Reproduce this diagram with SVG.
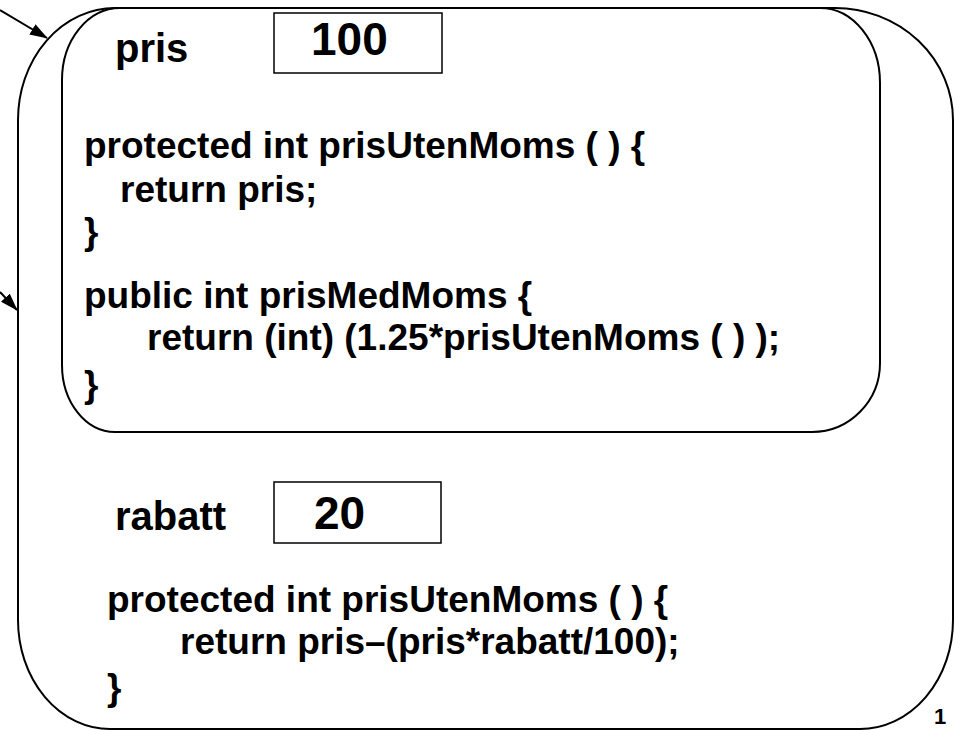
<svg xmlns="http://www.w3.org/2000/svg" width="955" height="730" viewBox="0 0 955 730">
<style>
.t{font-family:"Liberation Sans",Arial,sans-serif;font-weight:bold;fill:#000}
.c{font-size:37px}
.l{font-size:40px}
.n{font-size:46px}
.shape{fill:none;stroke:#000;stroke-width:2}
.box{fill:#fff;stroke:#000;stroke-width:1.5}
.conn{stroke:#000;stroke-width:2;fill:none}
</style>
<defs>
<marker id="ah" viewBox="0 0 18 12" refX="17" refY="6" markerWidth="18" markerHeight="12" markerUnits="userSpaceOnUse" orient="auto">
<path d="M0,0 L18,6 L0,12 Z" fill="#000"/>
</marker>
</defs>
<g id="outer">
<path class="shape" d="M115 8 H835 A118 112 0 0 1 953 120 V620 A93 109 0 0 1 860 729 H110 A92 109 0 0 1 18 620 V120 A97 112 0 0 1 115 8 Z"/>
</g>
<g id="inner">
<path class="shape" d="M120 8 H820 A60 75 0 0 1 880 83 V363 A68 69 0 0 1 812 432 H115 A53 67 0 0 1 62 365 V80 A58 72 0 0 1 120 8 Z"/>
<text class="t l" x="115" y="62">pris</text>
<text class="t c" x="84" y="158">protected int prisUtenMoms ( ) {</text>
<text class="t c" x="120" y="202">return pris;</text>
<text class="t c" x="84" y="244">}</text>
<text class="t c" x="84" y="308">public int prisMedMoms {</text>
<text class="t c" x="147" y="350">return (int) (1.25*prisUtenMoms ( ) );</text>
<text class="t c" x="84" y="397">}</text>
</g>
<g id="pris-box">
<rect class="box" x="274" y="13" width="168" height="60"/>
<text class="t n" x="311" y="55">100</text>
</g>
<g id="rabatt">
<text class="t l" x="115" y="530">rabatt</text>
<text class="t c" x="107" y="612">protected int prisUtenMoms ( ) {</text>
<text class="t c" x="180" y="654">return pris–(pris*rabatt/100);</text>
<text class="t c" x="107" y="700">}</text>
</g>
<g id="rabatt-box">
<rect class="box" x="274" y="482" width="167" height="61"/>
<text class="t n" x="314" y="529">20</text>
</g>
<g id="connectors">
<line class="conn" x1="0" y1="10" x2="47" y2="38" marker-end="url(#ah)"/>
<line class="conn" x1="0" y1="292" x2="17" y2="310" marker-end="url(#ah)"/>
</g>
<text class="t" x="934" y="724" font-size="22">1</text>
</svg>
